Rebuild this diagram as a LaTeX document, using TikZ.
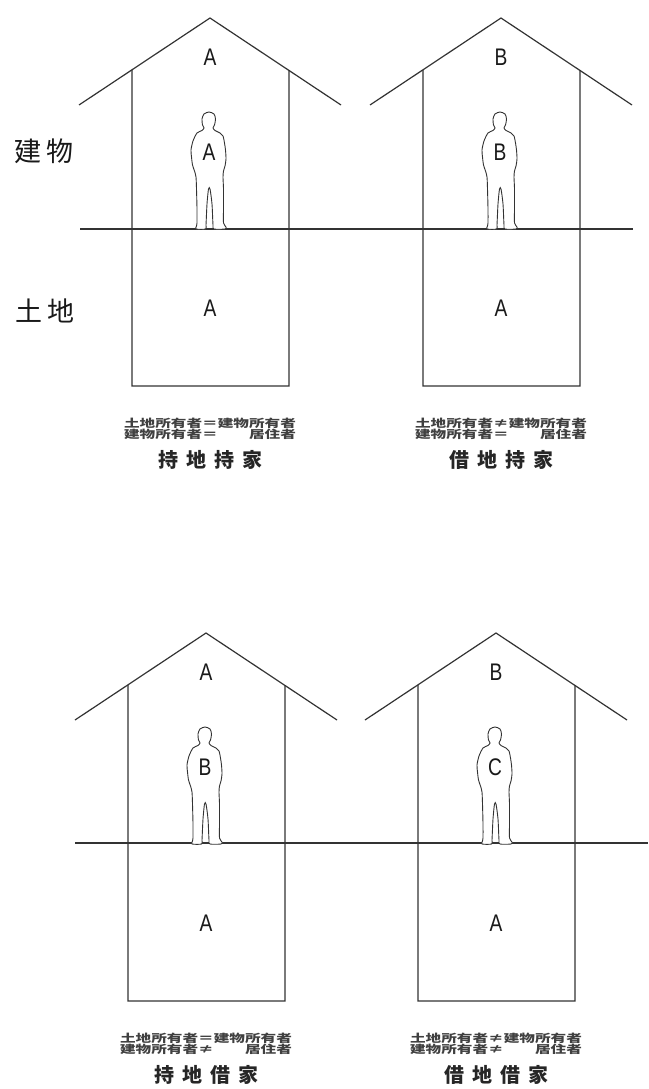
\documentclass[tikz,border=0pt]{standalone}
\usepackage{fontspec}
\newfontfamily\jfont{Noto Sans CJK JP}
\newfontfamily\lfont{Liberation Sans}
\usetikzlibrary{calc}

\tikzset{
  wall/.style={draw=black!80, line width=1.2pt},
  figure/.style={draw=black!80, line width=0.9pt, fill=white},
  letter/.style={font=\lfont\fontsize{24}{24}\selectfont, text=black!90, inner sep=0pt, xscale=0.8},
  sidelabel/.style={font=\jfont\fontsize{27}{27}\selectfont, text=black!90, inner sep=0pt},
  caption/.style={font=\jfont\bfseries\fontsize{11}{11}\selectfont, text=black!75, inner sep=0pt, xscale=1.42},
  title/.style={font=\jfont\bfseries\fontsize{20}{20}\selectfont, text=black!85, inner sep=0pt},
}

% standing person outline, feet centre at #1
\newcommand\occupant[1]{%
  \begin{scope}[shift={#1}, yscale=-1]
    \draw[figure] plot[smooth cycle, tension=0.45] coordinates {
      (0,117) (5,115) (6.5,110) (5.5,104) (4,101) (6,98.5) (11,96) (14,93)
      (15.5,86) (16.5,79) (17,70) (16,63) (14.5,58) (14,52) (14.5,40) (14.5,20)
      (14.5,6) (17,2) (16,0) (5,0) (4,4) (3,25) (1,40) (-0.5,40) (-2,25)
      (-3,4) (-3.5,0) (-13,0) (-12.5,3) (-12,6) (-12,20) (-12.5,40) (-13,52)
      (-14.5,58) (-16.5,64) (-17.5,72) (-18,79) (-16,88) (-12,96) (-7,98.5)
      (-5,101) (-6.5,104) (-7,110) (-5,115)};
  \end{scope}}

\newcommand\tsp{\hspace{8pt}}

% house: #1 id, #2/#3 apex, #4 roof owner, #5 occupant, #6 land owner,
% #7/#8 caption lines, #9 title
\newcommand\drawhouse[9]{%
  \coordinate (#1-apex) at (#2,#3);
  \coordinate (#1-l) at (#2-131,#3+87);
  \coordinate (#1-r) at (#2+131,#3+87);
  \coordinate (#1-wl) at ($(#1-apex)!78/131!(#1-l)$);
  \coordinate (#1-wr) at ($(#1-apex)!79/131!(#1-r)$);
  \coordinate (#1-bl) at (#2-78,#3+368);
  \coordinate (#1-br) at (#2+79,#3+368);
  \draw[wall] (#1-l) -- (#1-apex) -- (#1-r);
  \draw[wall] (#1-wl) -- (#1-bl) -- (#1-br) -- (#1-wr);
  \occupant{(#2-1,#3+211)}
  \node[letter] (#1-roof) at (#2,#3+39) {#4};
  \node[letter] (#1-occ) at (#2-1,#3+134) {#5};
  \node[letter] (#1-land) at (#2,#3+290) {#6};
  \node[caption] (#1-c1) at (#2,#3+405) {#7};
  \node[caption] (#1-c2) at (#2,#3+416.5) {#8};
  \node[title] (#1-t) at (#2,#3+442) {#9};
}

\begin{document}
\begin{tikzpicture}[x=1pt, y=-1pt]
  \useasboundingbox (0,0) rectangle (648,1089);
  \fill[white] (0,0) rectangle (648,1089);

  % ground lines
  \coordinate (g1a) at (80,229);
  \coordinate (g1b) at (633,229);
  \coordinate (g2a) at (75,843);
  \coordinate (g2b) at (648,843);
  \draw[wall] (g1a) -- (g1b);
  \draw[wall] (g2a) -- (g2b);

  \drawhouse{h1}{210}{18}{A}{A}{A}{土地所有者＝建物所有者}{建物所有者＝　　居住者}{持\tsp 地\tsp 持\tsp 家}
  \drawhouse{h2}{501}{18}{B}{B}{A}{土地所有者≠建物所有者}{建物所有者＝　　居住者}{借\tsp 地\tsp 持\tsp 家}
  \drawhouse{h3}{206}{633}{A}{B}{A}{土地所有者＝建物所有者}{建物所有者≠　　居住者}{持\tsp 地\tsp 借\tsp 家}
  \drawhouse{h4}{496}{633}{B}{C}{A}{土地所有者≠建物所有者}{建物所有者≠　　居住者}{借\tsp 地\tsp 借\tsp 家}

  \node[sidelabel] (bldg) at (44,151) {建\hspace{6pt}物};
  \node[sidelabel] (land) at (45,311) {土\hspace{6pt}地};
\end{tikzpicture}
\end{document}
